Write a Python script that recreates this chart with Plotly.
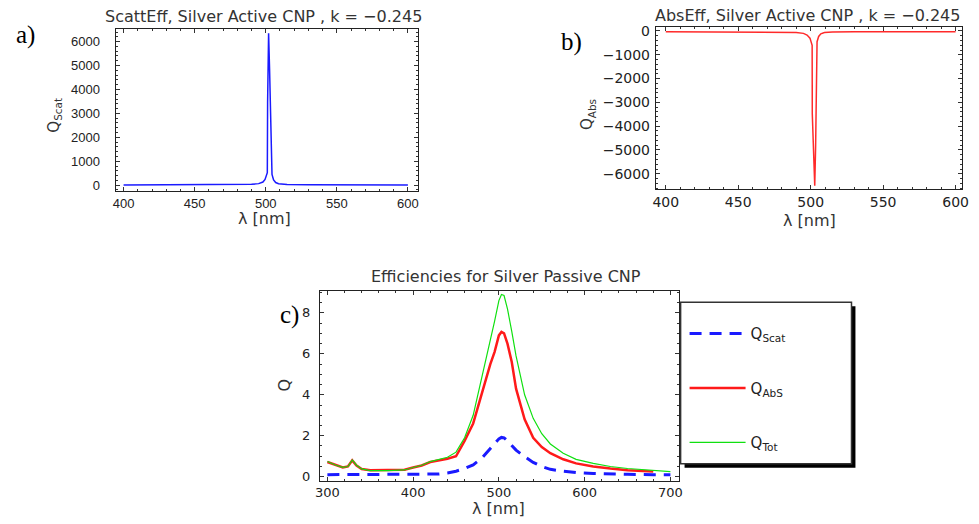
import plotly.graph_objects as go

W, H = 979, 524

# ---- panel a: scattering efficiency, active CNP ----
lam_a = [400, 450, 480, 490, 495, 498, 499.5, 500.5, 501.1, 501.3, 502.0, 502.7,
         503.3, 503.9, 504.4, 505.5, 507, 509, 515, 530, 560, 600]
q_scat_a = [8, 12, 20, 35, 65, 130, 240, 420, 520, 3450, 6350, 4800,
            3400, 1800, 450, 220, 110, 60, 30, 18, 12, 8]

# ---- panel b: absorption efficiency, active CNP ----
lam_b = [400, 450, 480, 490, 495, 497.5, 499.5, 500.6, 501.0, 501.1, 502.8, 503.4,
         503.7, 503.9, 504.4, 505.5, 507, 509.5, 515, 530, 560, 600]
q_abs_b = [-30, -33, -45, -65, -100, -170, -300, -480, -600, -3475, -6500, -4860,
           -3475, -1820, -450, -230, -120, -65, -45, -35, -32, -30]

# ---- panel c: efficiencies, passive CNP ----
lam_c = [300, 310, 318, 324, 329, 334, 340, 350, 370, 390, 400, 410, 420, 430, 440,
         450, 460, 470, 480, 490, 495, 500, 503, 506, 510, 515, 520, 530, 540, 550,
         560, 575, 590, 610, 630, 650, 680, 700]
q_scat_c = [0.1, 0.1, 0.1, 0.1, 0.1, 0.1, 0.1, 0.1, 0.1, 0.1, 0.1, 0.1, 0.1, 0.13, 0.18,
            0.27, 0.4, 0.58, 0.9, 1.4, 1.65, 1.85, 1.92, 1.9, 1.75, 1.55, 1.3, 0.98, 0.7, 0.5,
            0.36, 0.27, 0.2, 0.16, 0.13, 0.12, 0.1, 0.1]
q_abs_c = [0.72, 0.55, 0.45, 0.5, 0.8, 0.55, 0.38, 0.32, 0.32, 0.34, 0.45, 0.55, 0.72, 0.8, 0.88,
           1.0, 1.75, 2.6, 4.1, 5.5, 6.1, 6.9, 7.07, 7.0, 6.5, 5.6, 4.3, 2.8, 1.9, 1.45,
           1.15, 0.85, 0.65, 0.5, 0.4, 0.32, 0.25, None]
q_tot_c = [0.74, 0.56, 0.46, 0.5, 0.82, 0.56, 0.38, 0.3, 0.3, 0.33, 0.45, 0.56, 0.74, 0.84, 0.95,
           1.2, 1.9, 3.0, 4.8, 6.6, 7.6, 8.6, 8.9, 8.85, 8.2, 7.1, 5.9, 4.0, 2.85, 2.1,
           1.6, 1.15, 0.85, 0.65, 0.5, 0.4, 0.3, 0.25]

SANS = "Liberation Sans, Arial, sans-serif"
WIDE = "DejaVu Sans, Verdana, sans-serif"
SERIF = "Liberation Serif, Times New Roman, serif"


def px(x):
    return x / W


def py(y):
    return 1 - y / H


def axis(rng, tick0, dtick, minor_dtick, domain, anchor, family, size):
    return dict(
        domain=domain, range=rng, anchor=anchor,
        tickmode="linear", tick0=tick0, dtick=dtick, tickformat="d",
        showline=True, linecolor="#222", linewidth=1.2, mirror="allticks",
        ticks="inside", ticklen=4, tickcolor="#333", tickwidth=1,
        minor=dict(ticks="inside", ticklen=2, dtick=minor_dtick, tick0=tick0,
                   tickcolor="#333", showgrid=False),
        tickfont=dict(family=family, size=size, color="#222"),
        showgrid=False, zeroline=False,
    )


fig = go.Figure()

fig.add_trace(go.Scatter(x=lam_a, y=q_scat_a, mode="lines", xaxis="x", yaxis="y",
                         line=dict(color="#1a1aff", width=1.5), showlegend=False))
fig.add_trace(go.Scatter(x=lam_b, y=q_abs_b, mode="lines", xaxis="x2", yaxis="y2",
                         line=dict(color="#ff2a2a", width=1.5), showlegend=False))

fig.add_trace(go.Scatter(x=lam_c, y=q_scat_c, mode="lines", xaxis="x3", yaxis="y3",
                         name="Q<sub>Scat</sub>", legendgroup="s",
                         line=dict(color="#1a1aff", width=3, dash="12px,8px")))
fig.add_trace(go.Scatter(x=lam_c, y=q_abs_c, mode="lines", xaxis="x3", yaxis="y3",
                         name="Q<sub>AbS</sub>", legendgroup="a",
                         line=dict(color="#ff1a1a", width=2.5)))
fig.add_trace(go.Scatter(x=lam_c, y=q_tot_c, mode="lines", xaxis="x3", yaxis="y3",
                         name="Q<sub>Tot</sub>", legendgroup="t",
                         line=dict(color="#10e010", width=1.2)))

layout = dict(
    width=W, height=H, margin=dict(l=0, r=0, t=0, b=0),
    paper_bgcolor="white", plot_bgcolor="white",
    xaxis=axis([394.4, 607], 400, 50, 10, [px(112), px(418)], "y", SANS, 13),
    yaxis=axis([-247, 6543], 0, 1000, 200, [py(190), py(25)], "x", SANS, 13),
    xaxis2=axis([393.2, 604.5], 400, 50, 10, [px(659), px(969)], "y2", WIDE, 14),
    yaxis2=axis([-6645, 182], -6000, 1000, 200, [py(188), py(23)], "x2", WIDE, 14),
    xaxis3=axis([291.5, 709.6], 300, 100, 20, [px(319), px(682)], "y3", WIDE, 13),
    yaxis3=axis([-0.19, 9.09], 0, 2, 0.5, [py(484), py(291)], "x3", WIDE, 13),
    legend=dict(x=px(688), y=py(318), xanchor="left", yanchor="top",
                bgcolor="rgba(0,0,0,0)", borderwidth=0, tracegroupgap=32,
                itemwidth=56, font=dict(family=WIDE, size=15, color="#222")),
    showlegend=True,
)
layout["yaxis"]["ticklabelstandoff"] = 12
layout["yaxis2"]["ticklabelstandoff"] = 2
layout["yaxis3"]["ticklabelstandoff"] = 6
fig.update_layout(**layout)

# legend frame with drop shadow
fig.add_shape(type="rect", xref="paper", yref="paper", x0=px(688), x1=px(861),
              y0=py(471), y1=py(307), fillcolor="black", line=dict(width=0), layer="above")
fig.add_shape(type="rect", xref="paper", yref="paper", x0=px(684), x1=px(857),
              y0=py(467), y1=py(303), fillcolor="white", line=dict(color="#333", width=1.5),
              layer="above")


def note(text, x, y, size=16, family=WIDE, angle=0, color="#333"):
    fig.add_annotation(text=text, x=px(x), y=py(y), xref="paper", yref="paper",
                       showarrow=False, xanchor="center", yanchor="middle",
                       textangle=angle, font=dict(family=family, size=size, color=color))


note("ScattEff, Silver Active CNP , k = −0.245", 262, 13)
note("AbsEff, Silver Active CNP , k = −0.245", 812, 12)
note("Efficiencies for Silver Passive CNP", 507, 277)
note("λ [nm]", 263, 218)
note("λ [nm]", 814, 220)
note("λ [nm]", 500, 512)
note("Q<sub>Scat</sub>", 50, 113, size=15, angle=-90)
note("Q<sub>Abs</sub>", 590, 112, size=15, angle=-90)
note("Q", 283, 387, size=16, angle=-90)
note("a)", 21, 31, size=25, family=SERIF, color="black")
note("b)", 574, 39, size=25, family=SERIF, color="black")
note("c)", 288, 316, size=25, family=SERIF, color="black")

fig.write_html("out.html")
